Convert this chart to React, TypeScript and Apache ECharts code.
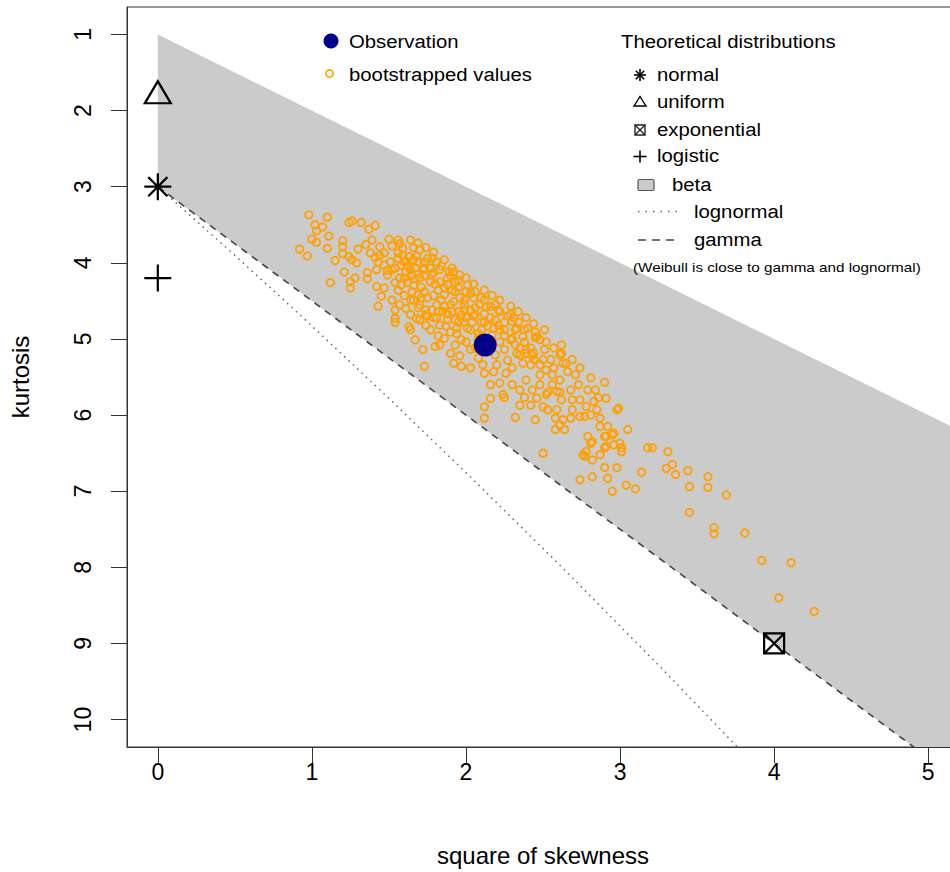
import React, { useEffect, useRef } from "react";
import * as echarts from "echarts";

// ---------- data ----------
const xTicks = [0, 1, 2, 3, 4, 5];
const yTicks = [1, 2, 3, 4, 5, 6, 7, 8, 9, 10];
const xRange = [-0.2, 5.2];
const yRange = [0.64, 10.36];

const observation = [[2.125, 5.08]];
const normalPoint = [[0, 3]];
const uniformPoint = [[0, 1.8]];
const exponentialPoint = [[4, 9]];
const logisticPoint = [[0, 4.2]];

// beta region: between kurtosis = 1 + skew^2 and the gamma line
const betaRegion = [[0, 1], [6, 7], [6, 12], [0, 3]];
const gammaLine = [[0, 3], [6, 12]];
const lognormalLine = [
  [0, 3], [0.465, 3.838], [0.961, 4.756], [1.488, 5.758], [2.048, 6.85],
  [2.641, 8.035], [3.267, 9.32], [3.928, 10.71],
];

const bootstrapped = [
  [0.98, 3.37], [1.10, 3.40], [1.24, 3.47], [1.26, 3.45], [1.32, 3.47], [1.37, 3.56], [1.41, 3.51],
  [1.02, 3.50], [1.07, 3.53], [1.03, 3.58], [1.11, 3.65], [1.00, 3.69], [1.03, 3.73], [1.10, 3.81],
  [0.92, 3.82], [0.97, 3.91], [1.20, 3.71], [1.20, 3.79], [1.15, 3.97], [1.20, 3.88], [1.24, 3.92],
  [1.26, 3.96], [1.29, 4.00], [1.30, 3.82], [1.35, 3.76], [1.38, 3.87], [1.41, 3.93], [1.44, 3.90],
  [1.47, 3.87], [1.50, 3.69], [1.56, 3.70], [1.59, 3.81], [1.56, 3.87], [1.63, 3.92], [1.61, 3.98],
  [1.21, 4.12], [1.12, 4.26], [1.25, 4.25], [1.28, 4.20], [1.25, 4.33], [1.36, 4.13], [1.36, 4.21],
  [1.42, 4.09], [1.42, 4.31], [1.49, 4.10], [1.45, 4.44], [1.43, 4.57], [1.54, 4.62], [1.54, 4.73],
  [1.61, 4.60], [1.63, 4.84], [1.68, 4.73], [1.74, 4.68],
  [1.54, 4.07], [1.58, 4.03], [1.64, 4.09], [1.69, 3.99], [1.73, 4.07], [1.78, 4.16], [1.83, 4.09],
  [1.88, 4.20], [1.93, 4.26], [1.57, 4.20], [1.62, 4.26], [1.67, 4.21], [1.71, 4.32], [1.77, 4.25],
  [1.82, 4.36], [1.86, 4.42], [1.91, 4.36], [1.96, 4.46], [1.56, 4.36], [1.60, 4.43], [1.66, 4.49],
  [1.70, 4.55], [1.75, 4.46], [1.81, 4.55], [1.85, 4.64], [1.90, 4.55], [1.95, 4.64], [2.00, 4.72],
  [1.52, 4.49], [1.57, 4.55], [1.64, 4.68], [1.69, 4.42], [1.74, 4.82], [1.79, 4.72], [1.83, 4.82],
  [1.88, 4.75], [1.94, 4.86], [1.99, 4.55], [2.03, 4.62], [1.65, 4.16], [1.70, 3.83], [1.75, 3.94],
  [1.81, 3.99], [1.86, 3.96], [1.91, 4.07], [1.96, 4.16], [2.01, 4.29], [2.06, 4.38], [1.51, 3.99],
  [1.54, 4.26], [1.59, 3.90], [1.66, 3.80], [1.74, 3.80], [1.79, 3.86],
  [1.66, 3.96], [1.72, 4.09], [1.79, 4.13], [1.89, 4.12], [1.92, 4.12], [2.03, 4.40], [2.12, 4.49],
  [2.13, 4.58], [2.29, 4.68], [2.30, 4.77], [2.33, 4.86], [2.37, 4.97], [2.45, 4.98], [2.39, 5.14],
  [2.44, 5.19], [2.50, 5.27], [2.61, 5.21], [2.63, 5.32], [2.57, 5.38], [1.64, 4.88], [1.72, 5.14],
  [1.73, 5.36], [1.80, 5.10], [1.90, 5.19], [1.92, 5.32], [1.97, 5.36], [2.03, 5.38], [2.11, 5.34],
  [2.20, 5.34],
  [2.06, 4.68], [2.10, 4.78], [2.16, 4.72], [2.21, 4.82], [2.25, 4.88], [2.17, 4.95], [2.22, 5.04],
  [2.03, 4.88], [2.08, 4.99], [1.97, 5.01], [2.03, 5.14], [2.14, 5.14], [2.25, 5.14], [2.32, 5.08],
  [2.35, 5.21], [2.27, 5.28], [1.93, 4.75], [1.99, 4.78], [2.09, 4.55], [2.19, 4.55], [2.22, 4.64],
  [1.86, 4.99], [1.83, 5.08], [1.93, 5.08],
  [2.46, 4.97], [2.62, 5.19], [2.65, 5.32], [2.71, 5.47], [2.79, 5.67], [2.90, 5.57], [2.91, 5.78],
  [2.98, 5.93], [2.83, 5.82], [2.78, 5.89], [2.74, 6.02], [2.85, 5.93], [2.87, 6.04], [2.68, 5.67],
  [2.59, 5.69], [2.52, 5.73], [2.46, 5.78], [2.50, 5.89], [2.59, 5.93], [2.58, 6.04], [2.61, 6.13],
  [2.63, 6.06], [2.68, 6.04], [2.58, 6.19], [2.64, 6.19], [2.77, 6.02], [2.79, 6.28], [2.81, 6.37],
  [2.87, 6.15], [2.92, 6.15], [2.91, 6.28], [2.96, 6.24], [3.00, 6.37], [3.01, 6.43], [2.91, 6.41],
  [3.05, 6.19], [3.18, 6.43], [2.87, 6.52], [2.76, 6.52], [2.50, 6.50], [2.32, 6.03], [2.12, 6.04],
  [2.12, 5.89], [2.16, 5.78], [2.24, 5.73], [2.30, 5.60], [2.18, 5.43], [2.12, 5.45], [2.26, 5.45],
  [2.37, 5.32], [2.33, 5.19], [2.39, 5.19], [2.44, 5.27], [2.52, 5.41], [2.56, 5.60], [2.48, 5.60],
  [2.39, 5.54], [2.35, 5.67], [2.22, 5.58],
  [2.43, 5.67], [2.48, 5.34], [2.56, 5.47], [2.61, 5.54], [2.66, 5.43], [2.73, 5.60], [2.69, 5.80],
  [2.62, 5.80], [2.53, 5.93], [2.42, 5.87], [2.38, 5.77], [2.74, 5.80], [2.81, 6.00], [2.86, 5.77],
  [2.45, 6.06],
  [2.99, 5.91], [3.21, 6.43], [3.31, 6.48], [3.30, 6.70], [3.34, 6.65], [3.36, 6.78], [3.44, 6.73],
  [3.45, 6.94], [3.57, 6.81], [3.57, 6.95], [3.69, 7.05], [3.45, 7.28], [3.61, 7.48], [3.61, 7.56],
  [3.81, 7.55], [3.92, 7.91], [4.11, 7.94], [4.03, 8.40], [4.26, 8.58], [3.14, 6.75], [3.10, 6.97],
  [3.04, 6.92], [2.95, 7.00], [2.92, 6.83], [2.90, 6.69], [2.98, 6.69], [2.82, 6.81], [2.74, 6.85],
  [2.82, 6.59], [2.77, 6.54], [2.78, 6.48], [2.90, 6.43], [2.96, 6.39], [3.01, 6.48], [2.82, 6.35],
  [2.95, 6.26], [2.90, 6.28],
  [1.60, 3.99], [1.67, 4.07], [1.73, 4.17], [1.80, 4.28], [1.86, 4.33], [1.93, 4.38], [1.99, 4.49],
  [2.06, 4.59], [2.12, 4.67], [2.19, 4.75], [2.25, 4.78], [2.32, 4.88], [2.38, 5.04], [1.58, 4.29],
  [1.65, 4.38], [1.71, 4.46], [1.78, 4.62], [1.84, 4.49], [1.91, 4.64], [1.97, 4.68], [2.04, 4.78],
  [2.10, 4.88], [2.17, 5.04], [2.30, 4.99], [2.42, 5.12], [1.70, 4.75], [1.77, 4.88], [1.82, 4.96],
  [1.90, 4.91], [1.96, 5.22], [2.08, 5.25], [2.19, 5.21], [2.30, 5.38], [2.42, 5.34], [2.51, 5.14],
  [2.55, 5.27], [1.49, 4.16], [1.47, 4.33], [1.54, 4.78], [1.67, 5.01],
  [1.39, 3.70], [1.44, 3.79], [1.52, 3.78], [1.57, 3.75], [1.64, 3.70], [1.69, 3.74], [1.47, 4.03],
  [1.43, 3.99], [1.52, 4.09], [1.61, 4.12], [1.70, 4.20], [1.77, 4.07], [1.83, 4.25], [1.88, 4.29],
  [1.95, 4.32], [2.00, 4.38], [2.05, 4.46], [2.10, 4.46], [2.16, 4.57], [2.21, 4.62], [2.27, 4.70],
  [2.34, 4.78], [2.40, 4.86], [2.45, 4.91], [2.52, 5.04], [2.57, 5.12], [2.62, 5.08], [2.69, 5.27],
  [2.74, 5.38], [2.81, 5.51], [2.84, 5.67], [1.64, 4.49], [1.74, 4.62], [1.81, 4.72], [1.87, 4.83],
  [1.94, 4.93], [2.00, 5.04], [2.06, 5.12], [2.13, 5.01], [2.22, 4.88], [2.29, 5.01], [2.35, 5.12],
  [2.43, 5.22], [2.48, 5.47], [2.53, 5.70], [2.61, 5.70], [2.69, 5.93], [2.16, 5.60], [2.25, 5.77],
  [2.35, 5.87],
  [1.56, 3.94], [1.62, 4.04], [1.68, 3.91], [1.73, 3.99], [1.78, 3.94], [1.84, 4.04], [1.90, 4.17],
  [1.95, 4.23], [2.00, 4.20], [2.05, 4.28], [2.12, 4.36], [2.17, 4.43], [2.22, 4.49], [2.29, 4.57],
  [2.34, 4.64], [2.39, 4.72], [2.44, 4.80], [2.51, 4.88], [1.60, 4.20], [1.66, 4.30], [1.73, 4.38],
  [1.79, 4.43], [1.86, 4.57], [1.92, 4.51], [1.99, 4.62], [2.05, 4.70], [2.12, 4.78], [2.18, 4.86],
  [2.25, 4.96], [2.31, 4.72], [2.38, 4.88], [2.48, 5.01], [1.69, 4.59], [1.75, 4.70], [1.82, 4.64],
  [1.88, 4.67], [1.95, 4.78], [2.01, 4.86], [2.08, 4.93], [2.14, 4.83],
];

// ---------- styles ----------
const FONT = "'Liberation Sans', Arial, Helvetica, sans-serif";
const TEXT_STRETCH = 1.13;
const GREY = "#CBCBCB";
const ORANGE = "#FFA000";
const NAVY = "#00008B";

const asteriskPath = "path://M0,-1L0,1M-1,0L1,0M-0.7071,-0.7071L0.7071,0.7071M-0.7071,0.7071L0.7071,-0.7071";
const trianglePath = "path://M0,-1L0.866,0.5L-0.866,0.5Z";
const boxXPath = "path://M-1,-1L1,-1L1,1L-1,1ZM-1,-1L1,1M-1,1L1,-1";
const plusPath = "path://M0,-1L0,1M-1,0L1,0";

function txt(x: number, y: number, text: string, size = 18) {
  return {
    type: "text",
    x,
    y,
    scaleX: TEXT_STRETCH,
    z: 100,
    silent: true,
    style: {
      text,
      fill: "#000",
      fontSize: size,
      fontFamily: FONT,
      align: "left",
      verticalAlign: "middle",
    },
  };
}

function seg(x1: number, y1: number, x2: number, y2: number, stroke = "#000", lineWidth = 1.6, lineDash?: number[]) {
  return {
    type: "line",
    z: 100,
    silent: true,
    shape: { x1, y1, x2, y2 },
    style: { stroke, lineWidth, lineDash },
  };
}

function markerSeries(name: string, data: number[][], symbol: string, size: any, offset: number[] = [0, 0]) {
  return {
    name,
    type: "scatter",
    data,
    symbol,
    symbolSize: size,
    symbolOffset: offset,
    silent: true,
    z: 6,
    itemStyle: { color: "rgba(0,0,0,0)", borderColor: "#000", borderWidth: 2.2, opacity: 1 },
  };
}

export default function App() {
  const ref = useRef<HTMLDivElement>(null);

  useEffect(() => {
    if (!ref.current) return;
    const chart = echarts.init(ref.current, undefined, { renderer: "svg" });

    const legendGraphics: any[] = [
      // left legend
      { type: "circle", z: 100, silent: true, shape: { cx: 331, cy: 41, r: 7.5 }, style: { fill: NAVY } },
      txt(349, 42, "Observation"),
      { type: "circle", z: 100, silent: true, shape: { cx: 329.5, cy: 73.5, r: 3.6 }, style: { fill: "none", stroke: ORANGE, lineWidth: 1.6 } },
      txt(349, 75, "bootstrapped values"),
      // right legend
      txt(621, 42, "Theoretical distributions"),
      // normal (asterisk)
      seg(640, 69, 640, 81), seg(634, 75, 646, 75), seg(635.8, 70.8, 644.2, 79.2), seg(635.8, 79.2, 644.2, 70.8),
      txt(657, 75, "normal"),
      // uniform (triangle)
      { type: "polygon", z: 100, silent: true, shape: { points: [[640, 96.5], [646, 106], [634, 106]] }, style: { fill: "none", stroke: "#000", lineWidth: 1.4 } },
      txt(657, 102, "uniform"),
      // exponential (boxed x)
      { type: "rect", z: 100, silent: true, shape: { x: 635, y: 125, width: 10, height: 10 }, style: { fill: "none", stroke: "#222", lineWidth: 1.4 } },
      seg(635, 125, 645, 135, "#222", 1.3), seg(635, 135, 645, 125, "#222", 1.3),
      txt(657, 130, "exponential"),
      // logistic (plus)
      seg(633.5, 156.5, 646.5, 156.5), seg(640, 150.5, 640, 162.5),
      txt(657, 156, "logistic"),
      // beta
      { type: "rect", z: 100, silent: true, shape: { x: 638, y: 179.5, width: 16, height: 11, r: 1.5 }, style: { fill: GREY, stroke: "#555", lineWidth: 1.2 } },
      txt(672, 185, "beta"),
      // lognormal
      seg(638, 211.5, 678, 211.5, "#666", 1.5, [1.5, 6]),
      txt(694, 212, "lognormal"),
      // gamma
      seg(638, 240, 678, 240, "#444", 1.5, [8, 6]),
      txt(694, 240, "gamma"),
      txt(633, 267, "(Weibull is close to gamma and lognormal)", 13.5),
    ];

    const option: any = {
      animation: false,
      backgroundColor: "#fff",
      grid: {
        left: 127,
        top: 7,
        width: 832,
        height: 740,
        show: true,
        borderColor: "#333",
        borderWidth: 1,
        backgroundColor: "transparent",
      },
      xAxis: {
        type: "value",
        min: xRange[0],
        max: xRange[1],
        name: "square of skewness",
        nameLocation: "middle",
        nameGap: 96,
        nameTextStyle: { fontSize: 24, fontFamily: FONT, color: "#000" },
        axisLine: { show: true, onZero: false, lineStyle: { color: "#333", width: 1 } },
        axisTick: { show: true, customValues: xTicks, length: 16, lineStyle: { color: "#333", width: 1 } },
        axisLabel: { show: true, customValues: xTicks, margin: 13, fontSize: 23, fontFamily: FONT, color: "#000" },
        splitLine: { show: false },
      },
      yAxis: {
        type: "value",
        inverse: true,
        min: yRange[0],
        max: yRange[1],
        name: "kurtosis",
        nameLocation: "middle",
        nameRotate: 90,
        nameGap: 95,
        nameTextStyle: { fontSize: 24, fontFamily: FONT, color: "#000" },
        axisLine: { show: true, onZero: false, lineStyle: { color: "#333", width: 1 } },
        axisTick: { show: true, customValues: yTicks, length: 16, lineStyle: { color: "#333", width: 1 } },
        axisLabel: { show: true, customValues: yTicks, rotate: 90, margin: 33, fontSize: 23, fontFamily: FONT, color: "#000" },
        splitLine: { show: false },
      },
      series: [
        {
          name: "beta",
          type: "custom",
          coordinateSystem: "cartesian2d",
          clip: true,
          silent: true,
          z: 1,
          data: [betaRegion[0]],
          renderItem: (_params: any, api: any) => ({
            type: "polygon",
            shape: { points: betaRegion.map((p) => api.coord(p)) },
            style: { fill: GREY, stroke: "none" },
          }),
        },
        {
          name: "lognormal",
          type: "line",
          data: lognormalLine,
          showSymbol: false,
          symbol: "none",
          silent: true,
          clip: true,
          z: 2,
          lineStyle: { color: "#666", width: 1.5, type: [1.5, 4.5] },
        },
        {
          name: "gamma",
          type: "line",
          data: gammaLine,
          showSymbol: false,
          symbol: "none",
          silent: true,
          clip: true,
          z: 2,
          lineStyle: { color: "#444", width: 1.6, type: [7, 6] },
        },
        {
          name: "bootstrapped values",
          type: "scatter",
          data: bootstrapped,
          symbol: "circle",
          symbolSize: 7.5,
          silent: true,
          z: 3,
          itemStyle: { color: "rgba(0,0,0,0)", borderColor: ORANGE, borderWidth: 1.8, opacity: 1 },
        },
        {
          name: "Observation",
          type: "scatter",
          data: observation,
          symbol: "circle",
          symbolSize: 23,
          silent: true,
          z: 4,
          itemStyle: { color: NAVY, opacity: 1 },
        },
        markerSeries("normal", normalPoint, asteriskPath, 27),
        markerSeries("uniform", uniformPoint, trianglePath, [26, 22], [0, -3]),
        markerSeries("exponential", exponentialPoint, boxXPath, 20),
        markerSeries("logistic", logisticPoint, plusPath, 27),
      ],
      graphic: legendGraphics,
    };

    chart.setOption(option);
    return () => chart.dispose();
  }, []);

  return (
    <div style={{ position: "fixed", left: 0, top: 0, width: 950, height: 872, overflow: "hidden", background: "#fff" }}>
      <div ref={ref} style={{ width: 960, height: 872 }} />
    </div>
  );
}
